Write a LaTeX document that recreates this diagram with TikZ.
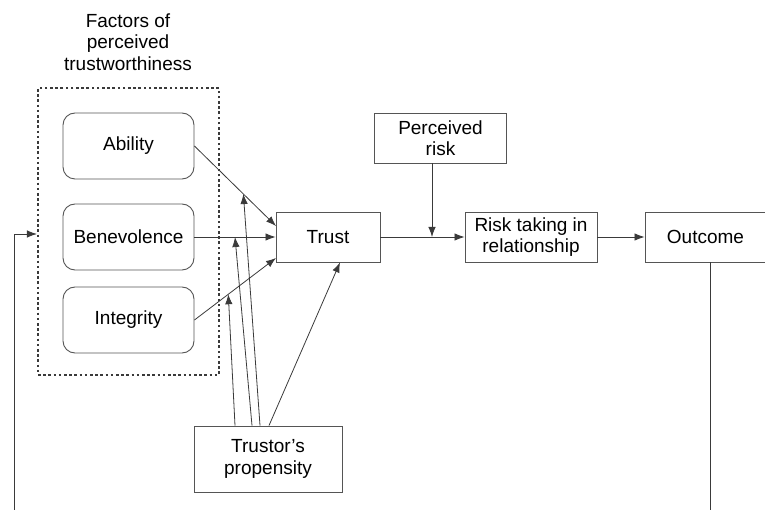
\documentclass[tikz,border=0pt]{standalone}
\usepackage{fontspec}
\setmainfont{Liberation Sans}
\usetikzlibrary{arrows.meta,calc}
\definecolor{edge}{HTML}{555555}
\definecolor{wire}{HTML}{3A3A3A}
\tikzset{
  txt/.style={font=\fontsize{19}{21.5}\selectfont, align=center, inner sep=0pt},
  rbox/.style={txt, draw=edge, line width=0.9pt, rounded corners=12pt},
  sbox/.style={txt, draw=edge, line width=0.9pt},
  wirearrow/.style={draw=wire, line width=0.8pt, -{Latex[length=10pt,width=7.5pt]}},
  wireline/.style={draw=wire, line width=0.8pt},
  groupbox/.style={draw=wire, line width=2.1pt, dash pattern=on 2.6pt off 2.6pt}
}
\begin{document}
\begin{tikzpicture}[x=1pt,y=-1pt]
\useasboundingbox (0,0) rectangle (765,510);
\clip (0,0) rectangle (765,510);

\node[txt] (title) at (128,42) {Factors of\\perceived\\trustworthiness};
\node[groupbox, minimum width=181pt, minimum height=287pt] (group) at (128.5,231.5) {};

\node[rbox, minimum width=131pt, minimum height=66pt] (ability) at (128.5,146) {Ability};
\node[rbox, minimum width=131pt, minimum height=66pt] (benev) at (128.5,237) {Benevolence};
\node[rbox, minimum width=131pt, minimum height=66pt] (integ) at (128.5,320) {Integrity};

\node[sbox, minimum width=104pt, minimum height=50pt] (trust) at (328,237) {Trust};
\node[sbox, minimum width=132pt, minimum height=50pt] (prisk) at (440.5,138) {Perceived\\risk};
\node[sbox, minimum width=132pt, minimum height=50pt] (risk) at (531,237) {Risk taking in\\relationship};
\node[sbox, minimum width=121pt, minimum height=50pt] (outcome) at (705.5,237) {Outcome};
\node[sbox, minimum width=148pt, minimum height=66pt] (prop) at (268,459) {Trustor's\\propensity};

% end points on Trust's left side
\coordinate (tA) at (276,226);
\coordinate (tI) at (276,258);
\coordinate (tB) at ($(trust.south)+(12,0)$);

\draw[wirearrow] (ability.east |- 0,146) -- (tA);
\draw[wirearrow] (benev.east) -- (trust.west);
\draw[wirearrow] (integ.east) -- (tI);

% propensity arrows onto the three lines and onto Trust
\coordinate (mA) at ($(ability.east)!0.6!(tA)$);
\coordinate (mB) at ($(benev.east)!0.5!(trust.west)$);
\coordinate (mI) at ($(integ.east)!0.415!(tI)$);
\draw[wirearrow] ($(prop.north)+(-33,0)$) -- (mI);
\draw[wirearrow] ($(prop.north)+(-16,0)$) -- (mB);
\draw[wirearrow] ($(prop.north)+(-8,0)$) -- (mA);
\draw[wirearrow] ($(prop.north)+(1,0)$) -- (tB);

% trust to risk taking, with perceived risk
\draw[wirearrow] (trust.east) -- (risk.west);
\coordinate (mR) at (432,237);
\draw[wirearrow] (prisk.south -| mR) -- (mR);
\draw[wirearrow] (risk.east) -- (outcome.west);

% feedback
\coordinate (fb1) at (710,515);
\coordinate (fb2) at (14,515);
\draw[wireline] (outcome.south -| fb1) -- (fb1);
\draw[wirearrow] (fb2) -- (14,234) -- (group.west |- 0,234);
\end{tikzpicture}
\end{document}
